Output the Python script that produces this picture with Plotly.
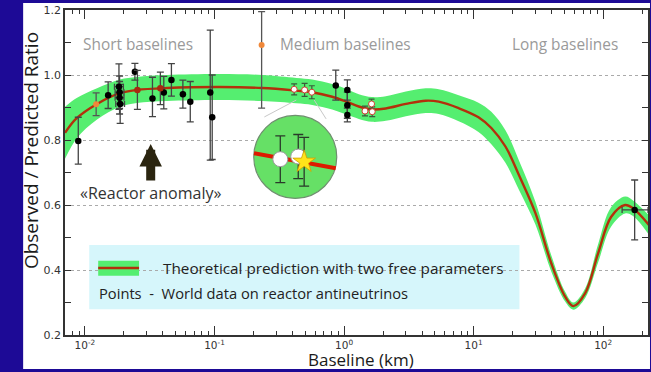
import plotly.graph_objects as go

# ---------------- data ----------------
# theoretical prediction (red line) and half-width of green uncertainty band
curve_L = [0.00702, 0.00863, 0.0124, 0.0186, 0.0251, 0.0428, 0.109, 0.234, 0.428, 0.568,
           0.809, 1.04, 1.30, 1.64, 2.10, 3.0, 4.27, 5.38, 7.67, 10.9, 13.7, 17.6, 22.5,
           30, 39.8, 51, 58.8, 72.7, 91.5, 115, 147.6, 170, 226]
curve_R = [0.822, 0.867, 0.911, 0.944, 0.954, 0.960, 0.963, 0.960, 0.952, 0.947,
           0.933, 0.918, 0.903, 0.894, 0.897, 0.911, 0.921, 0.918, 0.898, 0.870, 0.837, 0.78, 0.69,
           0.575, 0.42, 0.317, 0.289, 0.329, 0.452, 0.563, 0.600, 0.590, 0.538]
band_half = [0.08, 0.062, 0.048, 0.042, 0.04, 0.04, 0.04, 0.04, 0.039, 0.039,
             0.039, 0.039, 0.038, 0.038, 0.038, 0.038, 0.038, 0.038, 0.04, 0.045, 0.05, 0.05, 0.045,
             0.035, 0.025, 0.015, 0.011, 0.015, 0.028, 0.03, 0.026, 0.024, 0.03]

# world data: black points
black_L = [0.00888, 0.0151, 0.0183, 0.0185, 0.0185, 0.0187, 0.0243, 0.0332, 0.0406, 0.0465,
           0.0570, 0.065, 0.0927, 0.096, 0.863, 1.06, 1.06, 1.06, 175]
black_R = [0.797, 0.938, 0.964, 0.947, 0.930, 0.911, 1.010, 0.928, 0.946, 0.985,
           0.941, 0.918, 0.946, 0.870, 0.968, 0.954, 0.907, 0.877, 0.585]
black_up = [0.073, 0.041, 0.07, 0.05, 0.05, 0.06, 0.026, 0.065, 0.05, 0.05,
            0.043, 0.062, 0.192, 0.13, 0.047, 0.031, 0.04, 0.021, 0.092]
black_dn = [0.071, 0.041, 0.07, 0.05, 0.05, 0.06, 0.026, 0.056, 0.05, 0.05,
            0.043, 0.062, 0.208, 0.13, 0.045, 0.031, 0.04, 0.021, 0.092]
black_xup = [0, 0, 0.0015, 0.0015, 0.0015, 0.0015, 0, 0, 0, 0,
             0, 0, 0, 0, 0, 0, 0, 0, 47]
black_xdn = [0, 0, 0.0014, 0.0014, 0.0014, 0.0014, 0, 0, 0, 0,
             0, 0, 0, 0, 0, 0, 0, 0, 35]

# points lying on the curve (red-brown)
red_L = [0.0254, 0.0382]
red_R = [0.954, 0.959]
red_err = [0.06, 0.05]

# orange points
orange_L = [0.0122, 0.231]
orange_R = [0.910, 1.092]
orange_up = [0.035, 0.103]
orange_dn = [0.035, 0.194]

# open (white) points
white_L = [0.412, 0.496, 0.564, 1.45, 1.63, 1.65]
white_R = [0.956, 0.954, 0.947, 0.889, 0.911, 0.887]
white_err = [0.017, 0.02, 0.02, 0.015, 0.015, 0.015]

# inset (magnified view)
inset_center_L = [0.42]
inset_center_R = [0.748]
inset_line_L = [0.2017, 0.863]
inset_line_R = [0.759, 0.713]
inset_conn_L = [0.428, 0.2426, None, 0.588, 0.727]
inset_conn_R = [0.923, 0.871, None, 0.923, 0.865]
inset_pts_L = [0.322, 0.443]
inset_pts_R = [0.741, 0.749]
inset_pts_err = [0.072, 0.068]
inset_star_L = [0.492]
inset_star_R = [0.733]
inset_star_err = [0.075]

# axis ticks
x_tickvals = [0.01, 0.1, 1, 10, 100]
x_ticktext = ["10<sup>-2</sup>", "10<sup>-1</sup>", "10<sup>0</sup>", "10<sup>1</sup>", "10<sup>2</sup>"]
x_minor = [k * d for d in (0.001, 0.01, 0.1, 1, 10, 100) for k in range(2, 10)]
y_tickvals = [0.2, 0.4, 0.6, 0.8, 1.0, 1.2]
y_ticktext = ["0.2", "0.4", "0.6", "0.8", "1.0", "1.2"]

region_labels = ["Short baselines", "Medium baselines", "Long baselines"]
legend_line1 = "Theoretical prediction with two free parameters"
legend_line2 = "Points  -  World data on reactor antineutrinos"
anomaly_text = "«Reactor anomaly»"
y_title = "Observed / Predicted Ratio"
x_title = "Baseline (km)"

# ---------------- layout geometry ----------------
W, H = 651, 372
ML, MR, MT, MB = 65, 1, 10, 37
PW = W - ML - MR
PH = H - MT - MB


def xp(px):
    return (px - ML) / PW


def yp(py):
    return (H - MB - py) / PH


BLUE = "#1d0a96"
GREEN = "#55ee70"
RED = "#b3300c"
TXT = "Open Sans"

upper = [r + h for r, h in zip(curve_R, band_half)]
lower = [r - h for r, h in zip(curve_R, band_half)]

fig = go.Figure()
fig.add_trace(go.Scatter(x=curve_L, y=upper, mode="lines", line=dict(width=0, shape="spline"),
                         hoverinfo="skip", showlegend=False))
fig.add_trace(go.Scatter(x=curve_L, y=lower, mode="lines", line=dict(width=0, shape="spline"),
                         fill="tonexty", fillcolor=GREEN, hoverinfo="skip", showlegend=False))
fig.add_trace(go.Scatter(x=curve_L, y=curve_R, mode="lines", line=dict(width=2.4, color=RED, shape="spline"),
                         showlegend=False))

# inset
fig.add_trace(go.Scatter(x=inset_conn_L, y=inset_conn_R, mode="lines",
                         line=dict(width=1, color="#c8c8c8"), showlegend=False))
fig.add_trace(go.Scatter(x=inset_center_L, y=inset_center_R, mode="markers",
                         marker=dict(size=83, color="#66e066", line=dict(width=1.2, color="#6f8f6f")),
                         showlegend=False))
fig.add_trace(go.Scatter(x=inset_line_L, y=inset_line_R, mode="lines",
                         line=dict(width=4, color="#dd1a00"), showlegend=False))
fig.add_trace(go.Scatter(x=inset_pts_L, y=inset_pts_R, mode="markers",
                         marker=dict(size=15, color="white", line=dict(width=1, color="#999999")),
                         error_y=dict(type="data", array=inset_pts_err, color="#2a3a2a", thickness=1.3, width=5),
                         showlegend=False))
fig.add_trace(go.Scatter(x=inset_star_L, y=inset_star_R, mode="markers",
                         marker=dict(size=17, symbol="star", color="#ffe41a", line=dict(width=0.8, color="#d0a000")),
                         error_y=dict(type="data", array=inset_star_err, color="#2a3a2a", thickness=1.3, width=5),
                         showlegend=False))

# data points
fig.add_trace(go.Scatter(x=black_L, y=black_R, mode="markers",
                         marker=dict(size=6.5, color="black"),
                         error_y=dict(type="data", array=black_up, arrayminus=black_dn, symmetric=False,
                                      color="#444444", thickness=1.3, width=3.5),
                         error_x=dict(type="data", array=black_xup, arrayminus=black_xdn, symmetric=False,
                                      color="#444444", thickness=1.3, width=3),
                         showlegend=False))
fig.add_trace(go.Scatter(x=red_L, y=red_R, mode="markers",
                         marker=dict(size=6.5, color="#a82a10"),
                         error_y=dict(type="data", array=red_err, color="#444444", thickness=1.3, width=3.5),
                         showlegend=False))
fig.add_trace(go.Scatter(x=orange_L, y=orange_R, mode="markers",
                         marker=dict(size=6, color="#f0883a"),
                         error_y=dict(type="data", array=orange_up, arrayminus=orange_dn, symmetric=False,
                                      color="#555555", thickness=1.3, width=3.5),
                         showlegend=False))
fig.add_trace(go.Scatter(x=white_L, y=white_R, mode="markers",
                         marker=dict(size=6, color="white", line=dict(width=1, color="#d04030")),
                         error_y=dict(type="data", array=white_err, color="#3a5a3a", thickness=1.2, width=3),
                         showlegend=False))

shapes = [
    dict(type="rect", xref="paper", yref="paper", x0=xp(23), x1=xp(652), y0=yp(369), y1=yp(3),
         fillcolor="white", line=dict(width=0), layer="below"),
    dict(type="rect", xref="paper", yref="paper", x0=xp(89.3), x1=xp(521), y0=yp(309.3), y1=yp(245),
         fillcolor="#d6f6fb", line=dict(width=0), layer="below"),
    dict(type="rect", xref="paper", yref="paper", x0=xp(98.3), x1=xp(139.3), y0=yp(275.7), y1=yp(260.7),
         fillcolor=GREEN, line=dict(width=0), layer="above"),
    dict(type="line", xref="paper", yref="paper", x0=xp(98.3), x1=xp(139.3), y0=yp(268), y1=yp(268),
         line=dict(width=2.4, color=RED), layer="above"),
]

annotations = []
for label, cx in zip(region_labels, [138.3, 346.3, 566.3]):
    annotations.append(dict(x=xp(cx), y=yp(45), xref="paper", yref="paper", text=label, showarrow=False,
                            font=dict(family=TXT, size=15.4, color="#9a9a9a"), xanchor="center", yanchor="middle"))
annotations += [
    dict(x=xp(161), y=yp(268), xref="paper", yref="paper", text=legend_line1, showarrow=False,
         font=dict(family=TXT, size=15.3, color="#222222"), xanchor="left", yanchor="middle"),
    dict(x=xp(97.5), y=yp(292.7), xref="paper", yref="paper", text=legend_line2, showarrow=False,
         font=dict(family=TXT, size=14.7, color="#222222"), xanchor="left", yanchor="middle"),
    dict(x=xp(151), y=yp(193), xref="paper", yref="paper", text=anomaly_text, showarrow=False,
         font=dict(family=TXT, size=16, color="#333333"), xanchor="center", yanchor="middle"),
    dict(x=xp(31), y=yp(151), xref="paper", yref="paper", text=y_title, showarrow=False, textangle=-90,
         font=dict(family=TXT, size=19, color="#1a1a1a"), xanchor="center", yanchor="middle"),
    dict(x=xp(362), y=yp(359), xref="paper", yref="paper", text=x_title, showarrow=False,
         font=dict(family=TXT, size=17, color="#1a1a1a"), xanchor="center", yanchor="middle"),
    dict(x=xp(151), y=yp(144), xref="paper", yref="paper", text="", showarrow=True,
         ax=0, ay=38, arrowhead=2, arrowsize=0.5, arrowwidth=9, arrowcolor="#2b2510", standoff=0),
]

fig.update_layout(
    width=W, height=H,
    margin=dict(l=ML, r=MR, t=MT, b=MB, pad=0),
    paper_bgcolor=BLUE, plot_bgcolor="white",
    showlegend=False,
    shapes=shapes,
    annotations=annotations,
    xaxis=dict(type="log", range=[-2.154, 2.346], tickvals=x_tickvals, ticktext=x_ticktext,
               ticks="inside", ticklen=9, tickwidth=1, tickcolor="#333333",
               showline=True, linecolor="#333333", linewidth=1.5, mirror="allticks",
               showgrid=False, zeroline=False,
               tickfont=dict(family="DejaVu Sans", size=10.5, color="#333333"),
               minor=dict(tickvals=x_minor, ticks="inside", ticklen=4.5, tickcolor="#333333", showgrid=False)),
    yaxis=dict(range=[0.2, 1.2], tickvals=y_tickvals, ticktext=y_ticktext,
               ticks="inside", ticklen=6, tickwidth=1, tickcolor="#333333",
               showline=True, linecolor="#333333", linewidth=1.5, mirror="allticks",
               showgrid=True, gridcolor="#aaaaaa", griddash="dot", gridwidth=1, zeroline=False,
               tickfont=dict(family="DejaVu Sans", size=11, color="#333333"),
               minor=dict(dtick=0.1, ticks="inside", ticklen=6, tickcolor="#333333", showgrid=False)),
)

fig.write_html("out.html")
